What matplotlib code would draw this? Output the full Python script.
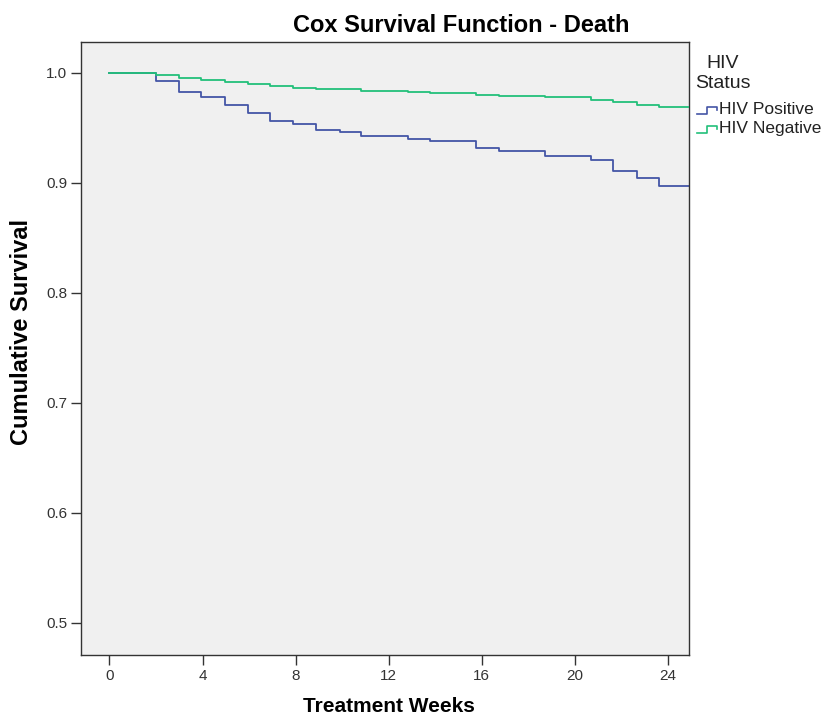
import matplotlib
matplotlib.use("Agg")
import matplotlib.pyplot as plt
from matplotlib.lines import Line2D

plt.rcParams['font.family'] = ['Liberation Sans', 'DejaVu Sans']

# ---- data ----
hiv_pos_times = [0, 2.0, 2.97, 3.95, 4.95, 5.95, 6.9, 7.88, 8.89, 9.89, 10.83,
                 12.83, 13.79, 15.77, 16.74, 18.71, 20.68, 21.65, 22.65, 23.63]
hiv_pos_surv = [1.0, 0.9927, 0.9824, 0.9779, 0.9709, 0.9633, 0.9564, 0.9531,
                0.9482, 0.9457, 0.9423, 0.9400, 0.9376, 0.9315, 0.9285, 0.9245,
                0.9203, 0.9103, 0.9042, 0.8973]
hiv_neg_times = [0, 2.0, 2.97, 3.95, 4.95, 5.95, 6.9, 7.88, 8.89, 10.83,
                 12.83, 13.79, 15.77, 16.74, 18.71, 20.68, 21.65, 22.65, 23.63]
hiv_neg_surv = [1.0, 0.9975, 0.9952, 0.9936, 0.9915, 0.9894, 0.9875, 0.9865,
                0.9848, 0.9830, 0.9821, 0.9815, 0.9800, 0.9785, 0.9776, 0.9755,
                0.9730, 0.9709, 0.9688]
follow_up_end = 25.0
series_labels = ["HIV Positive", "HIV Negative"]
x_ticks = [0, 4, 8, 12, 16, 20, 24]
y_ticks = [0.5, 0.6, 0.7, 0.8, 0.9, 1.0]

blue = '#4455a6'
green = '#22c07a'

fig = plt.figure(figsize=(8.31, 7.18), dpi=100)
ax = fig.add_axes([81/831, 63/718, 608/831, 613/718])
ax.set_facecolor('#f0f0f0')

ax.plot(hiv_pos_times + [follow_up_end], hiv_pos_surv + [hiv_pos_surv[-1]],
        drawstyle='steps-post', color=blue, lw=1.3, zorder=2)
ax.plot(hiv_neg_times + [follow_up_end], hiv_neg_surv + [hiv_neg_surv[-1]],
        drawstyle='steps-post', color=green, lw=1.3, zorder=3)

ax.set_xlim(-1.22, 24.9)
ax.set_ylim(0.4706, 1.0279)
ax.set_xticks(x_ticks)
ax.set_xticklabels([str(t) for t in x_ticks])
ax.set_yticks(y_ticks)
ax.set_yticklabels([f"{t:.1f}" for t in y_ticks])
ax.tick_params(axis='both', direction='out', length=7, width=1, color='#333333',
               labelsize=11, labelcolor='#333333', pad=3)
for s in ax.spines.values():
    s.set_color('#333333')
    s.set_linewidth(1.0)

fig.text(389/831, 1 - 707/718, "Treatment Weeks", fontsize=15, fontweight='bold',
         ha='center', va='center')
fig.text(22/831, 1 - 332/718, "Cumulative Survival", fontsize=17, fontweight='bold',
         ha='center', va='center', rotation=90)

fig.text(461/831, 1 - 25/718, "Cox Survival Function - Death", fontsize=17,
         fontweight='bold', ha='center', va='center')

# legend (outside right)
fig.text(723/831, 1 - 63/718, "HIV", fontsize=14, ha='center', va='center', color='#222222')
fig.text(723/831, 1 - 83/718, "Status", fontsize=14, ha='center', va='center', color='#222222')
leg_y = [110, 129]
for lab, col, yy in zip(series_labels, [blue, green], leg_y):
    x0, x1 = 697, 717
    ybase = yy + 4
    xs = [x0, x0 + 10, x0 + 10, x1, x1]
    ys = [ybase, ybase, ybase - 7, ybase - 7, ybase - 4]
    fig.add_artist(Line2D([x / 831 for x in xs], [1 - y / 718 for y in ys],
                          color=col, lw=1.2, transform=fig.transFigure))
    fig.text(719/831, 1 - yy/718, lab, fontsize=12.5, ha='left', va='center', color='#222222')

fig.savefig("out.png", dpi=100)
